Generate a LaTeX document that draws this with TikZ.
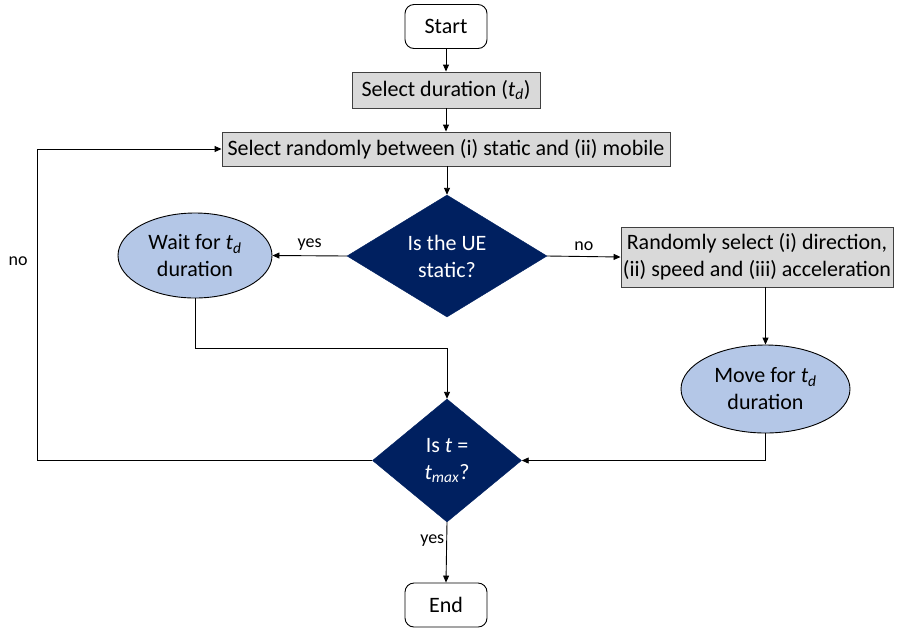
\documentclass[tikz,border=0pt]{standalone}
\usepackage{fontspec}
\setmainfont{Carlito}
\usetikzlibrary{shapes.geometric,arrows.meta}
\definecolor{navy}{HTML}{002060}
\definecolor{lightblue}{HTML}{B4C7E7}
\definecolor{boxgray}{HTML}{D9D9D9}
\newcommand{\tsub}[1]{\textit{t}\textsubscript{\textit{#1}}}
\begin{document}
\begin{tikzpicture}[x=1pt,y=-1pt,
  every node/.style={font=\fontsize{22}{27}\selectfont, inner sep=0pt, align=center},
  terminal/.style={draw=black, rounded corners=9pt, fill=white, line width=0.9pt,
    minimum width=82pt, minimum height=44pt},
  process/.style={draw=black!75, fill=boxgray, line width=0.9pt},
  decision/.style={diamond, draw=navy, fill=navy, text=white, aspect=1},
  waitstate/.style={ellipse, draw=black, fill=lightblue, line width=0.9pt},
  lbl/.style={font=\fontsize{18}{22}\selectfont},
  flow/.style={line width=0.9pt, -{Triangle[length=7pt,width=6pt]}}
]
\useasboundingbox (0,0) rectangle (899,630);

% blocks
\node[terminal] (start) at (446,26.5) {Start};
\node[process, minimum width=188pt, minimum height=36pt] (dur) at (446,90)
  {Select duration (\tsub{d})};
\node[process, minimum width=448pt, minimum height=34pt] (mode) at (446,149)
  {Select randomly between (i) static and (ii) mobile};
\node[decision, minimum width=200pt, minimum height=122pt] (static) at (447,256)
  {Is the UE\\static?};
\node[waitstate, minimum width=154pt, minimum height=85pt] (wait) at (195,255.5)
  {Wait for \tsub{d}\\duration};
\node[process, minimum width=272pt, minimum height=60pt] (rand) at (757,257)
  {Randomly select (i) direction,\\(ii) speed and (iii) acceleration};
\node[waitstate, minimum width=169pt, minimum height=88pt] (move) at (765.5,389)
  {Move for \tsub{d}\\duration};
\node[decision, minimum width=149pt, minimum height=123pt] (tmax) at (447,460.5)
  {Is \textit{t} =\\\tsub{max}?};
\node[terminal] (end) at (446,605) {End};

% connectors
\draw[flow] (start) -- (dur);
\draw[flow] (dur) -- (mode);
\draw[flow] (mode.south -| static.north) -- (static.north);
\draw[flow] (static.west) -- node[lbl, above=5pt] {yes} (wait.east);
\draw[flow] (static.east) -- node[lbl, above=5pt] {no} (rand.west);
\draw[flow] (wait.south) -- ++(0,50) -| (tmax.north);
\draw[flow] (rand.south -| move.north) -- (move.north);
\draw[flow] (move.south) |- (tmax.east);
\coordinate (loop) at (37,460.5);
\draw[flow] (tmax.west) -- (loop) |- node[lbl, pos=0.32, left=9pt] {no} (mode.west);
\draw[flow] (tmax.south) -- node[lbl, pos=0.31, left=2pt] {yes} (end.north);
\end{tikzpicture}
\end{document}
